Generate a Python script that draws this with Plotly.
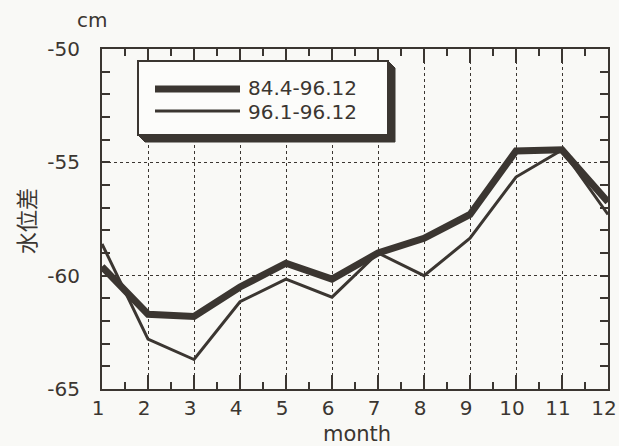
import plotly.graph_objects as go

# Monthly mean water-level difference (cm)
months = [1, 2, 3, 4, 5, 6, 7, 8, 9, 10, 11, 12]
long_term = [-59.6, -61.7, -61.8, -60.5, -59.45, -60.15, -59.0, -58.35, -57.3, -54.5, -54.45, -56.75]
year_96 = [-58.6, -62.8, -63.7, -61.15, -60.15, -60.95, -59.0, -60.0, -58.35, -55.65, -54.45, -57.3]
series_names = ["84.4-96.12", "96.1-96.12"]
x_ticks = months
y_ticks = [-65, -60, -55, -50]

INK = "#3b3631"
BG = "#f9f9f6"
FONT = "DejaVu Sans"

W, H = 619, 446
L, R, T, B = 102, 11, 49, 57
PW, PH = W - L - R, H - T - B


def px(x):
    return (x - L) / PW


def py(y):
    return (H - B - y) / PH


fig = go.Figure()
fig.add_trace(go.Scatter(x=months, y=long_term, mode="lines", name=series_names[0],
                         line=dict(color=INK, width=7), showlegend=False))
fig.add_trace(go.Scatter(x=months, y=year_96, mode="lines", name=series_names[1],
                         line=dict(color=INK, width=3), showlegend=False))

axis_common = dict(
    showline=True, linecolor=INK, linewidth=2, mirror="allticks",
    ticks="inside", tickcolor=INK, tickwidth=1.5,
    showgrid=True, gridcolor=INK, gridwidth=1, griddash="dot",
    zeroline=False, automargin=False, ticklabeloverflow="allow",
    tickfont=dict(family=FONT, size=20, color=INK),
)

fig.update_xaxes(
    range=[1, 12], tickmode="array", tickvals=x_ticks, ticktext=[str(m) for m in x_ticks],
    ticklen=14, ticklabelstandoff=0, ticklabelshift=-4,
    minor=dict(tick0=0.5, dtick=1, ticklen=7, tickcolor=INK, tickwidth=1.5, ticks="inside", showgrid=False),
    **axis_common,
)
fig.update_yaxes(
    range=[-65, -50], tickmode="array", tickvals=y_ticks, ticktext=[str(v) for v in y_ticks],
    ticklen=8, ticklabelstandoff=16,
    minor=dict(dtick=1, ticklen=8, tickcolor=INK, tickwidth=1.5, ticks="inside", showgrid=False),
    **axis_common,
)

# Legend box with an extruded shadow
bx0, by0, bx1, by1 = 138, 61, 388, 135
d = 7
shadow_path = (
    f"M {px(bx1)},{py(by0)} L {px(bx1 + d)},{py(by0 + d)} L {px(bx1 + d)},{py(by1 + d)} "
    f"L {px(bx0 + d)},{py(by1 + d)} L {px(bx0)},{py(by1)} L {px(bx1)},{py(by1)} Z"
)
shapes = [
    dict(type="path", xref="paper", yref="paper", path=shadow_path,
         fillcolor=INK, line=dict(color=INK, width=1), layer="above"),
    dict(type="rect", xref="paper", yref="paper",
         x0=px(bx0), x1=px(bx1), y0=py(by1), y1=py(by0),
         fillcolor="#fcfcfa", line=dict(color=INK, width=2), layer="above"),
    dict(type="line", xref="paper", yref="paper", x0=px(155), x1=px(240), y0=py(89), y1=py(89),
         line=dict(color=INK, width=7), layer="above"),
    dict(type="line", xref="paper", yref="paper", x0=px(155), x1=px(240), y0=py(111), y1=py(111),
         line=dict(color=INK, width=3), layer="above"),
]

annotations = [
    dict(text=series_names[0], xref="paper", yref="paper", x=px(246), y=py(88),
         xanchor="left", yanchor="middle", showarrow=False,
         font=dict(family=FONT, size=20, color=INK)),
    dict(text=series_names[1], xref="paper", yref="paper", x=px(246), y=py(112),
         xanchor="left", yanchor="middle", showarrow=False,
         font=dict(family=FONT, size=20, color=INK)),
    dict(text="cm", xref="paper", yref="paper", x=px(92), y=py(20),
         xanchor="center", yanchor="middle", showarrow=False,
         font=dict(family=FONT, size=20, color=INK)),
    dict(text="month", xref="paper", yref="paper", x=px(357), y=py(434),
         xanchor="center", yanchor="middle", showarrow=False,
         font=dict(family=FONT, size=21, color=INK)),
    dict(text="水位差", xref="paper", yref="paper", x=px(25), y=py(221),
         xanchor="center", yanchor="middle", showarrow=False, textangle=-90,
         font=dict(family="Noto Sans CJK JP", size=22, color=INK)),
]

fig.update_layout(
    width=W, height=H,
    margin=dict(l=L, r=R, t=T, b=B, pad=0),
    paper_bgcolor=BG, plot_bgcolor=BG,
    shapes=shapes, annotations=annotations,
    showlegend=False,
)

fig.write_html("out.html")
